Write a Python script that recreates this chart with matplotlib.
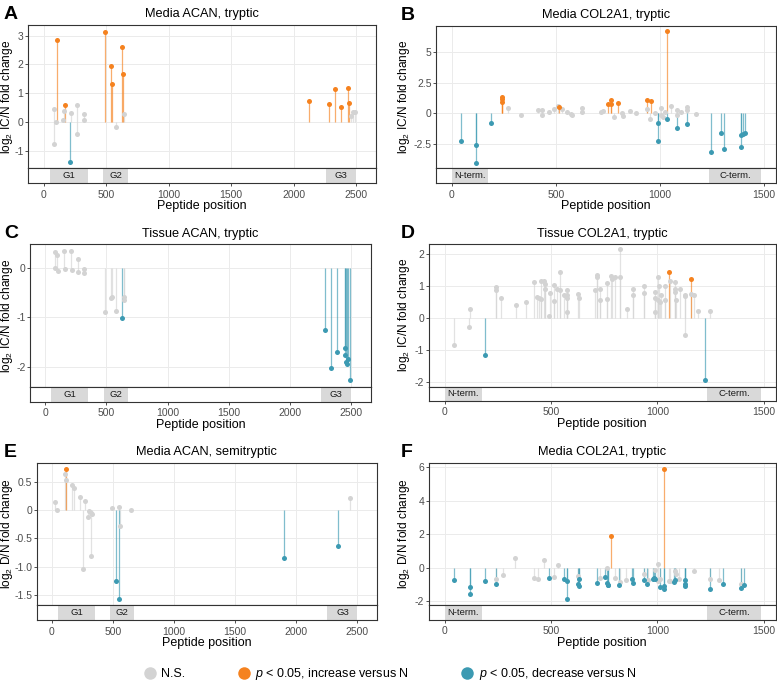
import numpy as np
import matplotlib.pyplot as plt
from matplotlib.lines import Line2D

plt.rcParams['font.family'] = ['Liberation Sans', 'DejaVu Sans']
plt.rcParams['mathtext.fontset'] = 'custom'
plt.rcParams['mathtext.rm'] = 'Liberation Sans'
plt.rcParams['mathtext.it'] = 'Liberation Sans:italic'

NS, UP, DOWN = '#d3d3d3', '#f5821f', '#3c9ab2'

# n = not significant, u = increase, d = decrease
# A: Media ACAN, tryptic
a_pos = [85, 85, 101, 160, 155, 221, 269, 269, 320, 320, 642, 578, 2460, 2478, 2495,
         109, 168, 493, 541, 546, 624, 637, 2121, 2281, 2332, 2380, 2438, 2441,
         213]
a_val = [0.46, -0.77, 0.0, 0.39, 0.08, 0.31, 0.61, -0.40, 0.28, 0.06, 0.28, -0.17, 0.2, 0.36, 0.36,
         2.84, 0.61, 3.11, 1.94, 1.34, 2.6, 1.68, 0.74, 0.62, 1.16, 0.52, 1.2, 0.65,
         -1.37]
a_grp = ['n'] * 15 + ['u'] * 13 + ['d']

# B: Media COL2A1, tryptic
b_pos = [273, 333, 417, 433, 433, 469, 491, 512, 529, 555, 571, 576, 627, 627, 715, 729,
         782, 820, 823, 855, 884, 939, 953, 977, 1003, 1007, 1015, 1023, 1055, 1083, 1083,
         1102, 1131, 1131, 1171,
         240, 240, 240, 515, 752, 763, 766, 800, 937, 955, 1035,
         43, 117, 117, 189, 990, 990, 1035, 1083, 1131, 1246, 1291, 1310, 1391, 1391, 1401, 1407]
b_val = [0.47, -0.11, 0.25, 0.28, -0.14, 0.08, 0.33, 0.58, 0.36, 0.08, -0.08, -0.14, 0.47, 0.11,
         0.08, 0.22, -0.33, 0.0, -0.19, 0.17, 0.06, 0.33, -0.5, 0.03, 0.42, -0.11, -0.28, 0.08,
         0.61, 0.28, -0.14, 0.11, 0.53, 0.25, -0.03,
         1.31, 1.19, 0.97, 0.5, 0.78, 1.08, 0.75, 0.86, 1.08, 1.0, 6.75,
         -2.31, -2.61, -4.06, -0.81, -0.81, -2.28, -0.47, -1.19, -0.92, -3.22, -1.58, -2.92,
         -1.75, -2.78, -1.69, -1.58]
b_grp = ['n'] * 35 + ['u'] * 11 + ['d'] * 16

# C: Tissue ACAN, tryptic
c_pos = [82, 95, 82, 106, 153, 164, 213, 218, 267, 267, 316, 319, 491, 540, 548, 578, 643, 641,
         624, 2285, 2339, 2386, 2446, 2448, 2458, 2467, 2478, 2492]
c_val = [0.33, 0.26, -0.01, -0.06, 0.34, -0.03, 0.34, -0.05, 0.18, -0.08, -0.03, -0.11,
         -0.9, -0.61, -0.59, -0.88, -0.59, -0.65,
         -1.01, -1.26, -2.03, -1.71, -1.62, -1.76, -1.9, -1.95, -1.84, -2.28]
c_grp = ['n'] * 18 + ['d'] * 10

# D: Tissue COL2A1, tryptic
d_pos = [45, 113, 119, 241, 241, 263, 334, 382, 418, 436, 445, 453, 453, 469, 470, 470, 494,
         491, 514, 514, 530, 541, 542, 561, 574, 574, 574, 577, 627, 630, 705, 718, 718, 730,
         730, 765, 765, 784, 785, 801, 823, 823, 856, 886, 886, 937, 937, 987, 989, 989, 1003,
         1006, 1003, 1013, 1016, 1034, 1034, 1060, 1082, 1083, 1085, 1088, 1107, 1132, 1132,
         1132, 1160, 1172, 1191, 1248,
         1053, 1160,
         190, 1226]
d_val = [-0.83, -0.29, 0.28, 0.97, 0.87, 0.62, 0.39, 0.5, 1.13, 0.64, 0.61, 0.6, 1.15, 1.15,
         1.07, 0.9, 0.78, 0.07, 1.03, 0.53, 0.91, 0.86, 1.44, 0.7, 0.7, 0.88, 0.18, 0.63, 0.75,
         0.63, 0.88, 1.34, 1.26, 0.89, 0.57, 1.08, 0.59, 1.31, 1.2, 1.26, 2.14, 1.27, 0.28, 0.91,
         0.7, 1.0, 0.76, 0.81, 0.18, 0.63, 1.26, 1.0, 0.56, 0.5, 0.72, 1.0, 0.57, 1.16, 1.12,
         0.89, 0.82, 0.55, 0.91, -0.52, 0.72, 0.67, 0.75, 0.7, 0.23, 0.23,
         1.44, 1.21,
         -1.16, -1.92]
d_grp = ['n'] * 70 + ['u'] * 2 + ['d'] * 2

# E: Media ACAN, semitryptic
e_pos = [24, 38, 108, 117, 165, 179, 228, 255, 271, 301, 293, 317, 325, 320, 494, 553, 561,
         645, 2440,
         119,
         521, 548, 1898, 2345]
e_val = [0.15, 0.01, 0.65, 0.55, 0.45, 0.4, 0.24, -1.04, 0.17, -0.01, -0.12, -0.05, -0.07,
         -0.82, 0.05, 0.06, -0.28, 0.01, 0.23,
         0.74,
         -1.25, -1.57, -0.84, -0.63]
e_grp = ['n'] * 19 + ['u'] + ['d'] * 4

# F: Media COL2A1, tryptic (D/N)
f_pos = [240, 274, 331, 418, 437, 469, 513, 531, 627, 730, 763, 801, 824, 854, 937, 956, 988,
         1002, 1003, 1014, 1055, 1060, 1085, 1086, 1102, 1172, 1246, 1290, 1392,
         784, 1033,
         42, 118, 118, 188, 240, 492, 560, 574, 574, 629, 632, 632, 716, 754, 763, 766, 770,
         821, 882, 884, 936, 951, 978, 986, 989, 1013, 1030, 1033, 1080, 1083, 1129, 1129,
         1129, 1246, 1307, 1392, 1408]
f_val = [-0.66, -0.42, 0.56, -0.64, -0.7, 0.46, -0.58, 0.16, -0.48, -0.6, -0.04, -0.6, -0.86,
         -0.72, -0.36, -0.72, -0.14, 0.2, -0.78, -0.66, -0.82, -0.8, -0.2, -0.36, -0.66, -0.18,
         -0.7, -0.72, -0.98,
         1.87, 5.9,
         -0.72, -1.16, -1.55, -0.78, -0.96, -0.62, -0.68, -0.8, -1.85, -1.0, -0.68, -1.12,
         -0.9, -0.58, -0.92, -1.02, -1.06, -1.06, -0.66, -0.94, -0.74, -0.98, -0.68, -0.62,
         -0.68, -1.16, -1.12, -1.25, -0.84, -0.74, -0.76, -0.96, -1.12, -1.25, -1.0, -1.2, -1.02]
f_grp = ['n'] * 29 + ['u'] * 2 + ['d'] * 37

acan_dom = [('G1', 48, 352), ('G2', 477, 675), ('G3', 2256, 2502)]
col_dom = [('N-term.', 0, 177), ('C-term.', 1235, 1485)]

W, H = 777, 683
fig = plt.figure(figsize=(W / 100, H / 100), dpi=100)


def box(l, t, r, b):
    return [l / W, 1 - b / H, (r - l) / W, (b - t) / H]


def panel(rect, pos, val, grp, ylim, yticks, ylabs, acan, title, letter, ylab, lab_x):
    l, t, m, b, r = rect
    ax = fig.add_axes(box(l, t, r, m))
    sx = fig.add_axes(box(l, m, r, b), sharex=ax)
    pos, val, grp = np.array(pos), np.array(val), np.array(grp)
    for g, c in (('n', NS), ('u', UP), ('d', DOWN)):
        k = grp == g
        ax.vlines(pos[k], 0, val[k], color=c, lw=0.9, alpha=0.65, zorder=2)
        ax.scatter(pos[k], val[k], s=13, color=c, zorder=3, linewidths=0)
    if acan:
        xlim, xt, dom = (-125, 2660), [0, 500, 1000, 1500, 2000, 2500], acan_dom
    else:
        xlim, xt, dom = (-75, 1556), [0, 500, 1000, 1500], col_dom
    ax.set_xlim(*xlim)
    ax.set_ylim(*ylim)
    ax.set_xticks(xt)
    ax.set_yticks(yticks)
    ax.set_yticklabels(ylabs)
    ax.grid(True, color='#ebebeb', lw=0.7)
    ax.set_axisbelow(True)
    ax.tick_params(axis='x', length=0, labelbottom=False)
    ax.tick_params(axis='y', length=2.2, width=0.6, color='#333333', pad=1,
                   labelsize=7.5, labelcolor='#4d4d4d')
    for name, s, e in dom:
        sx.axvspan(s, e, color='#d9d9d9', lw=0)
        sx.text((s + e) / 2, 0.5, name, ha='center', va='center', fontsize=6.8, color='#1a1a1a')
    sx.set_ylim(0, 1)
    sx.set_yticks([])
    sx.tick_params(axis='x', length=2.2, width=0.6, color='#333333', pad=2.5,
                   labelsize=7.5, labelcolor='#4d4d4d')
    for a in (ax, sx):
        for sp in a.spines.values():
            sp.set_color('#333333')
            sp.set_linewidth(0.8)
    cx = (l + r) / 2 / W
    fig.text(cx, 1 - (t - 7.5) / H, title, ha='center', va='baseline', fontsize=9.2)
    fig.text(cx, 1 - (b + 26) / H, 'Peptide position', ha='center', va='baseline', fontsize=9)
    fig.text(lab_x / W, 1 - (t + m) / 2 / H, ylab, rotation=90, ha='center', va='center',
             fontsize=8.6)
    fig.text((4 if l < 200 else 401) / W, 1 - (t - 6) / H, letter, ha='left', va='baseline',
             fontsize=14, fontweight='bold')


icn = r'log$_2$ IC/N fold change'
dn = r'log$_2$ D/N fold change'
panel((28, 25, 168, 183, 376), a_pos, a_val, a_grp, (-1.59, 3.37), [-1, 0, 1, 2, 3],
      ['-1', '0', '1', '2', '3'], True, 'Media ACAN, tryptic', 'A', icn, 7.5)
panel((436, 25.7, 168.3, 183.3, 775.7), b_pos, b_val, b_grp, (-4.52, 7.2), [-2.5, 0, 2.5, 5],
      ['-2.5', '0', '2.5', '5'], False, 'Media COL2A1, tryptic', 'B', icn, 404)
panel((30, 244.3, 387.3, 401.7, 370.7), c_pos, c_val, c_grp, (-2.42, 0.48), [-2, -1, 0],
      ['-2', '-1', '0'], True, 'Tissue ACAN, tryptic', 'C', icn, 7.5)
panel((428.7, 244, 386.7, 400.7, 775.7), d_pos, d_val, d_grp, (-2.14, 2.3), [-2, -1, 0, 1, 2],
      ['-2', '-1', '0', '1', '2'], False, 'Tissue COL2A1, tryptic', 'D', icn, 404)
panel((36.7, 462.7, 605.3, 620, 376.7), e_pos, e_val, e_grp, (-1.69, 0.85),
      [-1.5, -1.0, -0.5, 0, 0.5], ['-1.5', '-1.0', '-0.5', '0', '0.5'], True,
      'Media ACAN, semitryptic', 'E', dn, 7.5)
panel((428.7, 462.7, 605.3, 619.7, 775.7), f_pos, f_val, f_grp, (-2.25, 6.27), [-2, 0, 2, 4, 6],
      ['-2', '0', '2', '4', '6'], False, 'Media COL2A1, tryptic', 'F', dn, 404)

handles = [Line2D([], [], marker='o', ls='', ms=9, color=c, mew=0) for c in (NS, UP, DOWN)]
labels = ['N.S.', r'$p$ < 0.05, increase versus N', r'$p$ < 0.05, decrease versus N']
fig.legend(handles, labels, ncol=3, loc='center', bbox_to_anchor=(390 / W, 1 - 674 / H),
           frameon=False, fontsize=9, handlelength=1, handletextpad=0.4, columnspacing=4.2)

fig.savefig('out.png', dpi=100)
